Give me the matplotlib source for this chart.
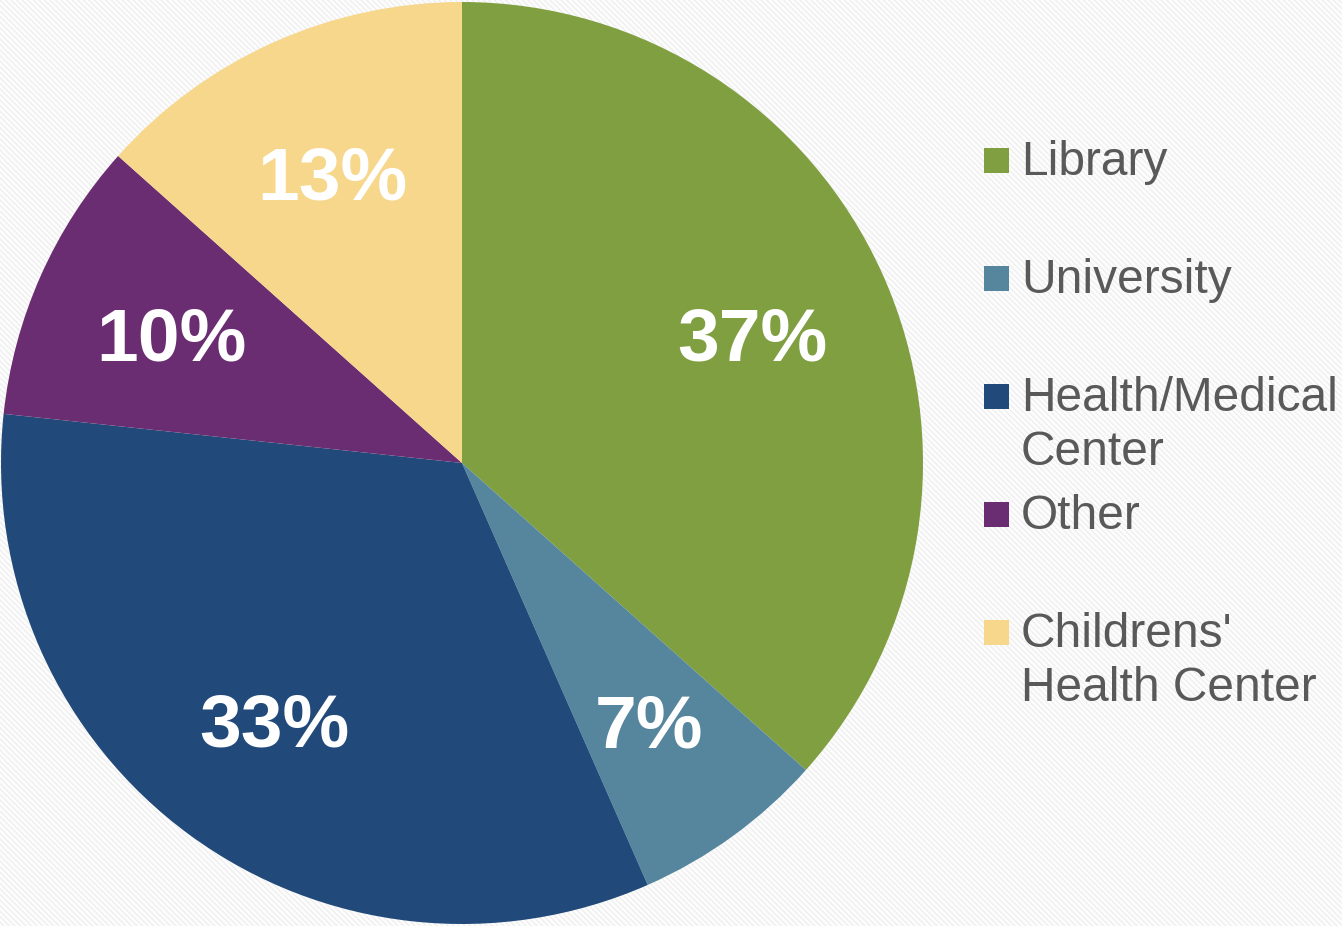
import matplotlib
matplotlib.use('Agg')
import matplotlib.pyplot as plt
from matplotlib.patches import Rectangle

plt.rcParams['font.family'] = ['Liberation Sans', 'DejaVu Sans']
plt.rcParams['hatch.linewidth'] = 1.0

# 数据
labels = ["Library", "University", "Health/Medical\nCenter", "Other",
          "Childrens'\nHealth Center"]
values = [36.6, 6.8, 33.3, 9.9, 13.4]
colors = ["#809F41", "#55869E", "#214A7A", "#6B2D71", "#F6D78B"]

W, H = 1342, 926
fig = plt.figure(figsize=(W / 100, H / 100), dpi=100)
fig.patch.set_facecolor("#fdfdfd")

# 背景斜纹
bg = Rectangle((0, 0), 1, 1, transform=fig.transFigure, facecolor="#fdfdfd",
               edgecolor="#efefef", hatch="\\\\\\\\\\\\", linewidth=0, zorder=-10)
fig.patches.append(bg)

# 饼图：中心(462,463)px，半径461px
r = 461
ax = fig.add_axes([(462 - r) / W, (463 - r) / H, 2 * r / W, 2 * r / H])
ax.set_facecolor("none")
wedges, texts, autotexts = ax.pie(
    values, colors=colors, startangle=90, counterclock=False,
    autopct="%.0f%%", pctdistance=0.69, radius=1.0,
    wedgeprops=dict(linewidth=0),
    textprops=dict(color="white", fontsize=54, fontweight="bold"))
for t in autotexts:
    t.set_va("center_baseline")
ax.set_xlim(-1, 1)
ax.set_ylim(-1, 1)
ax.axis("off")

# 图例（手动排列，首行间距一致）
y0 = 160
step = 118
for i, (lab, col) in enumerate(zip(labels, colors)):
    yc = y0 + i * step
    fig.patches.append(Rectangle((984 / W, 1 - (yc + 12.5) / H), 25 / W, 25 / H,
                                 transform=fig.transFigure, facecolor=col,
                                 edgecolor="none"))
    fig.text(1021 / W, 1 - (yc - 20) / H, lab, fontsize=34.5, color="#595959",
             ha="left", va="top", linespacing=1.26)

fig.savefig("out.png", dpi=100, facecolor=fig.get_facecolor())
